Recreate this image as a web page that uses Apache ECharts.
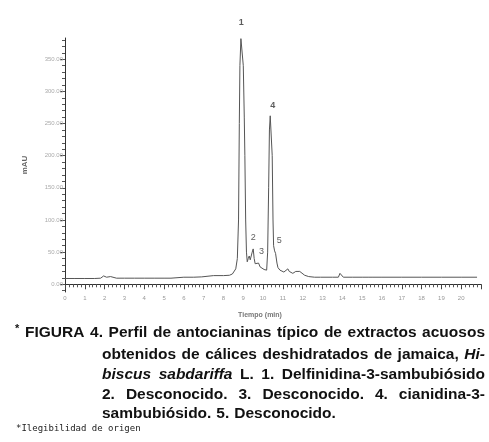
<!DOCTYPE html>
<html>
<head>
<meta charset="utf-8">
<script src="https://cdn.jsdelivr.net/npm/echarts@6/dist/echarts.min.js"></script>
<style>
  html,body{margin:0;padding:0;background:#fff;}
  #chart{width:489px;height:442px;}
</style>
</head>
<body>
<div id="chart"></div>
<script>
// cromatograma (tiempo en min, absorbancia en mAU)
var times = [0, 0.5, 1.0, 1.5, 1.8, 1.9, 1.95, 2.0, 2.1, 2.2, 2.3, 2.4, 2.6, 3.0, 3.5, 4.0, 4.5, 4.55, 4.6, 5.0,
  5.35, 5.45, 6.0, 6.5, 6.9, 7.0, 7.5, 8.0, 8.3, 8.45, 8.55, 8.62, 8.70, 8.76, 8.80, 8.83, 8.88, 8.95, 9.00, 9.05,
  9.08, 9.12, 9.16, 9.20, 9.25, 9.30, 9.35, 9.40, 9.45, 9.50, 9.55, 9.60, 9.70, 9.77, 9.85, 9.95, 10.05, 10.12, 10.18, 10.23,
  10.28, 10.32, 10.36, 10.42, 10.46, 10.50, 10.53, 10.58, 10.63, 10.70, 10.75, 10.85, 10.95, 11.05, 11.15, 11.25, 11.32, 11.40, 11.5, 11.65,
  11.75, 11.85, 11.95, 12.1, 12.3, 12.6, 12.9, 12.95, 13.0, 13.5, 13.8, 13.88, 13.95, 14.05, 14.5, 15.0, 15.3, 15.4, 15.5, 16,
  17, 18, 19, 20, 20.8];
var mau = [9, 9, 9, 9, 9.5, 12, 13, 10.5, 11, 12.5, 12, 10, 9.5, 9.5, 9.5, 9.5, 9.5, 11.5, 9.5, 9.5,
  9.5, 11, 11, 11, 11.5, 13, 13.5, 13.5, 14, 16, 19, 24, 40, 100, 250, 340, 382, 382, 340, 260,
  200, 100, 50, 35, 40, 44, 38, 37, 50, 55, 40, 32, 30, 33, 27, 24, 23, 21, 22, 50,
  150, 240, 262, 262, 200, 100, 60, 52, 48, 33, 26, 22, 20, 19, 22, 24, 20, 18, 17, 20,
  21, 20, 17, 14, 12, 11, 11, 13, 11, 11, 11, 17, 14, 11, 11, 11, 11, 13.5, 11, 11,
  11, 11, 11, 11, 11];

// picos identificados
var peakIds = ['1', '2', '3', '4', '5'];
var peakTimes = [8.9, 9.5, 9.77, 10.39, 10.62];
var peakHeights = [382, 55, 33, 262, 50];

var yLabelValues = [0, 50, 100, 150, 200, 250, 300, 350];
var yMinorValues = [];
for (var v = -10; v <= 380; v += 10) yMinorValues.push(v);

var labelStyles = [
  {offset: [0, -9], fontWeight: 'bold'},
  {offset: [0, -4], fontWeight: 'normal'},
  {offset: [3, -4], fontWeight: 'normal'},
  {offset: [2, -3], fontWeight: 'bold'},
  {offset: [4, -4], fontWeight: 'normal'}
];

// texto del pie de figura
var captionLines = [
  [['FIGURA 4. Perfil de antocianinas típico de extractos acuosos', false]],
  [['obtenidos de cálices deshidratados de jamaica, ', false], ['Hi-', true]],
  [['biscus sabdariffa', true], [' L. 1. Delfinidina-3-sambubiósido', false]],
  [['2. Desconocido. 3. Desconocido. 4. cianidina-3-', false]],
  [['sambubiósido. 5. Desconocido.', false]]
];
var footNote = '*Ilegibilidad de origen';

var chart = echarts.init(document.getElementById('chart'));

var ctx = document.createElement('canvas').getContext('2d');
var capSize = 15.5;
function capFont(italic) {
  return (italic ? 'italic ' : '') + 'bold ' + capSize + 'px "Liberation Sans", Arial, sans-serif';
}
// justifica cada linea repartiendo el espacio entre palabras
function captionGraphics() {
  var out = [];
  var lineY = [332, 354, 374, 394, 413];
  captionLines.forEach(function (segs, i) {
    var x0 = i === 0 ? 25 : 102, x1 = 485;
    var list = [];
    segs.forEach(function (s) {
      s[0].split(' ').forEach(function (w, k) {
        if (k > 0 && list.length && list[list.length - 1] !== null) list.push(null);
        if (w !== '') list.push({t: w, it: s[1]});
      });
    });
    var total = 0, gaps = 0;
    list.forEach(function (w) {
      if (w === null) gaps++;
      else { ctx.font = capFont(w.it); w.w = ctx.measureText(w.t).width; total += w.w; }
    });
    var last = i === captionLines.length - 1;
    var space = last ? capSize * 0.32 : (x1 - x0 - total) / gaps;
    var x = x0;
    list.forEach(function (w) {
      if (w === null) { x += space; return; }
      out.push({
        type: 'text', left: x, top: lineY[i] - 7,
        style: {text: w.t, font: capFont(w.it), fill: '#111'}
      });
      x += w.w;
    });
  });
  out.push({type: 'text', left: 15, top: 323, style: {text: '*', font: 'bold 11px "Liberation Sans", Arial', fill: '#111'}});
  out.push({type: 'text', left: 16, top: 424, style: {text: footNote, font: '9px "DejaVu Sans Mono", monospace', fill: '#222'}});
  return out;
}

chart.setOption({
  animation: false,
  grid: {left: 65, right: 8, top: 38, bottom: 150},
  xAxis: {
    type: 'value', min: 0, max: 21, interval: 1,
    name: 'Tiempo (min)', nameLocation: 'middle', nameGap: 20,
    nameTextStyle: {fontSize: 7, fontWeight: 'bold', color: '#777', fontFamily: 'Liberation Sans', padding: [0, 26, 0, 0]},
    axisLine: {lineStyle: {color: '#333', width: 1}},
    axisTick: {length: 5, lineStyle: {color: '#444'}},
    minorTick: {show: true, splitNumber: 5, length: 3, lineStyle: {color: '#555'}},
    axisLabel: {fontSize: 6, color: '#999', margin: 3, showMaxLabel: false, fontFamily: 'Liberation Sans'},
    splitLine: {show: false}
  },
  yAxis: [{
    type: 'value', min: -12, max: 383, position: 'left',
    name: 'mAU', nameLocation: 'middle', nameGap: 36, nameRotate: 90,
    nameTextStyle: {fontSize: 8, fontWeight: 'bold', color: '#666', fontFamily: 'Liberation Sans'},
    axisLine: {show: true, lineStyle: {color: '#333', width: 1}},
    axisTick: {show: true, length: 5, customValues: yLabelValues, lineStyle: {color: '#444'}},
    axisLabel: {fontSize: 6, color: '#aaa', margin: 2, customValues: yLabelValues, fontFamily: 'Liberation Sans',
      formatter: function (val) { return val.toFixed(2); }},
    splitLine: {show: false}
  }, {
    type: 'value', min: -12, max: 383, position: 'left', offset: 0,
    axisLine: {show: false},
    axisTick: {show: true, length: 3, customValues: yMinorValues, lineStyle: {color: '#555'}},
    axisLabel: {show: false},
    splitLine: {show: false}
  }],
  graphic: captionGraphics(),
  series: [{
    type: 'line',
    data: times.map(function (t, i) { return [t, mau[i]]; }),
    showSymbol: false,
    lineStyle: {color: '#555', width: 1},
    silent: true
  }, {
    type: 'scatter',
    symbolSize: 0,
    data: peakIds.map(function (id, i) {
      return {
        value: [peakTimes[i], peakHeights[i]],
        label: {offset: labelStyles[i].offset, fontWeight: labelStyles[i].fontWeight}
      };
    }),
    label: {
      show: true, position: 'top', distance: 3, fontSize: 9, color: '#333', fontFamily: 'Liberation Sans',
      formatter: function (p) { return peakIds[p.dataIndex]; }
    }
  }]
});
</script>
</body>
</html>
